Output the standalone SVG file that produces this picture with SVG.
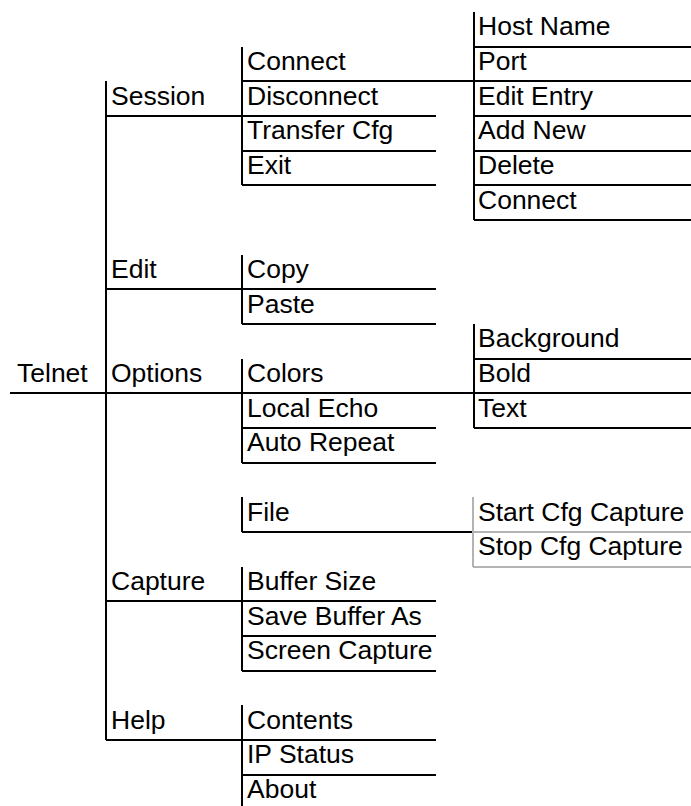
<svg xmlns="http://www.w3.org/2000/svg" width="691" height="806" viewBox="0 0 691 806">
<style>
text{font-family:"Liberation Sans",Arial,sans-serif;font-size:26.5px;fill:#000}
line{stroke:#000;stroke-width:2;fill:none}
.g line,line.g{stroke:#b3b3b3}
</style>
<rect width="691" height="806" fill="#fff"/>
<g id="connectors">
<line x1="10" y1="393" x2="106" y2="393"/>
<line x1="106" y1="81" x2="106" y2="740"/>
<line x1="242" y1="47" x2="242" y2="185"/>
<line x1="242" y1="255" x2="242" y2="324"/>
<line x1="242" y1="359" x2="242" y2="463"/>
<line x1="242" y1="497" x2="242" y2="532"/>
<line x1="242" y1="567" x2="242" y2="671"/>
<line x1="242" y1="705" x2="242" y2="806"/>
<line x1="474" y1="12" x2="474" y2="220"/>
<line x1="474" y1="324" x2="474" y2="428"/>
<line x1="436" y1="81" x2="474" y2="81"/>
<line x1="436" y1="393" x2="474" y2="393"/>
<line x1="436" y1="532" x2="473" y2="532"/>
<line class="g" x1="473" y1="497" x2="473" y2="567"/>
</g>
<g id="telnet"><text x="17" y="381.5">Telnet</text></g>
<g id="session"><text x="111" y="104.5">Session</text><line x1="106" y1="116" x2="242" y2="116"/></g>
<g id="edit"><text x="111" y="278">Edit</text><line x1="106" y1="289" x2="242" y2="289"/></g>
<g id="options"><text x="111" y="381.5">Options</text><line x1="106" y1="393" x2="242" y2="393"/></g>
<g id="capture"><text x="111" y="590">Capture</text><line x1="106" y1="601" x2="242" y2="601"/></g>
<g id="help"><text x="111" y="728.5">Help</text><line x1="106" y1="740" x2="242" y2="740"/></g>
<g id="session-connect"><text x="247" y="70">Connect</text><line x1="242" y1="81" x2="436" y2="81"/></g>
<g id="disconnect"><text x="247" y="104.5">Disconnect</text><line x1="242" y1="116" x2="436" y2="116"/></g>
<g id="transfer-cfg"><text x="247" y="139">Transfer Cfg</text><line x1="242" y1="151" x2="436" y2="151"/></g>
<g id="exit"><text x="247" y="174">Exit</text><line x1="242" y1="185" x2="436" y2="185"/></g>
<g id="copy"><text x="247" y="278">Copy</text><line x1="242" y1="289" x2="436" y2="289"/></g>
<g id="paste"><text x="247" y="312.5">Paste</text><line x1="242" y1="324" x2="436" y2="324"/></g>
<g id="colors"><text x="247" y="381.5">Colors</text><line x1="242" y1="393" x2="436" y2="393"/></g>
<g id="local-echo"><text x="247" y="416.5">Local Echo</text><line x1="242" y1="428" x2="436" y2="428"/></g>
<g id="auto-repeat"><text x="247" y="451">Auto Repeat</text><line x1="242" y1="463" x2="436" y2="463"/></g>
<g id="file"><text x="247" y="520.5">File</text><line x1="242" y1="532" x2="436" y2="532"/></g>
<g id="buffer-size"><text x="247" y="590">Buffer Size</text><line x1="242" y1="601" x2="436" y2="601"/></g>
<g id="save-buffer-as"><text x="247" y="624.5">Save Buffer As</text><line x1="242" y1="636" x2="436" y2="636"/></g>
<g id="screen-capture"><text x="247" y="659">Screen Capture</text><line x1="242" y1="671" x2="436" y2="671"/></g>
<g id="contents"><text x="247" y="728.5">Contents</text><line x1="242" y1="740" x2="436" y2="740"/></g>
<g id="ip-status"><text x="247" y="763">IP Status</text><line x1="242" y1="775" x2="436" y2="775"/></g>
<g id="about"><text x="247" y="798">About</text></g>
<g id="host-name"><text x="478" y="35">Host Name</text><line x1="474" y1="47" x2="691" y2="47"/></g>
<g id="port"><text x="478" y="70">Port</text><line x1="474" y1="81" x2="691" y2="81"/></g>
<g id="edit-entry"><text x="478" y="104.5">Edit Entry</text><line x1="474" y1="116" x2="691" y2="116"/></g>
<g id="add-new"><text x="478" y="139">Add New</text><line x1="474" y1="151" x2="691" y2="151"/></g>
<g id="delete"><text x="478" y="174">Delete</text><line x1="474" y1="185" x2="691" y2="185"/></g>
<g id="sub-connect"><text x="478" y="208.5">Connect</text><line x1="474" y1="220" x2="691" y2="220"/></g>
<g id="background"><text x="478" y="347">Background</text><line x1="474" y1="359" x2="691" y2="359"/></g>
<g id="bold"><text x="478" y="381.5">Bold</text><line x1="474" y1="393" x2="691" y2="393"/></g>
<g id="text"><text x="478" y="416.5">Text</text><line x1="474" y1="428" x2="691" y2="428"/></g>
<g id="start-cfg-capture" class="g"><text x="478" y="520.5">Start Cfg Capture</text><line x1="473" y1="532" x2="691" y2="532"/></g>
<g id="stop-cfg-capture" class="g"><text x="478" y="555">Stop Cfg Capture</text><line x1="473" y1="567" x2="691" y2="567"/></g>
</svg>
